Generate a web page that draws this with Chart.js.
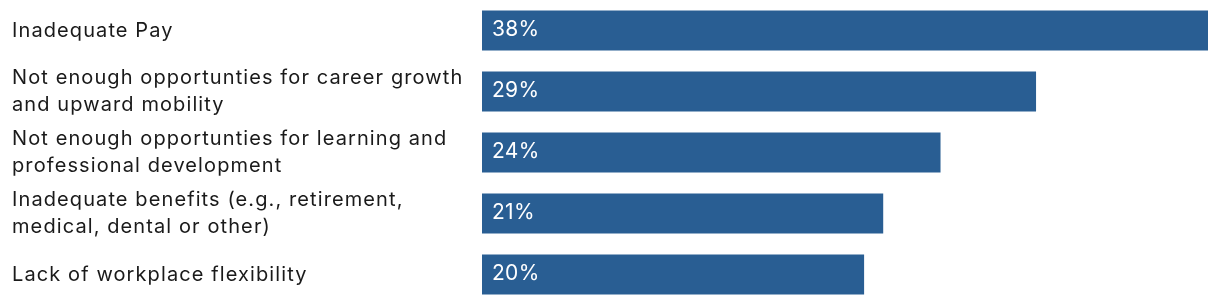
<!DOCTYPE html>
<html lang="en">
<head>
    <meta charset="UTF-8" />
    <title>Reasons for leaving</title>
    <script src="https://cdn.jsdelivr.net/npm/chart.js"></script>
    <style>
        html, body { margin: 0; padding: 0; background: #fff; }
        .wrap { width: 1220px; height: 306px; }
    </style>
</head>
<body>
    <div class="wrap"><canvas id="reasonsChart" width="1220" height="306"></canvas></div>

<script>
    const categories = [
        ['Inadequate Pay'],
        ['Not enough opportunties for career growth', 'and upward mobility'],
        ['Not enough opportunties for learning and', 'professional development'],
        ['Inadequate benefits (e.g., retirement,', 'medical, dental or other)'],
        ['Lack of workplace flexibility']
    ];
    const values = [38, 29, 24, 21, 20];
    const valueLabels = ['38%', '29%', '24%', '21%', '20%'];

    const FONT = 'Inter';
    const BAR_COLOR = '#295E93';

    // wider tracking so Inter reads closer to the original face
    const tracking = {
        id: 'tracking',
        beforeDraw(chart) {
            chart.ctx.letterSpacing = '1.1px';
        }
    };

    // writes the percentage inside each bar, left side
    const insideLabels = {
        id: 'insideLabels',
        afterDatasetsDraw(chart) {
            const { ctx } = chart;
            const meta = chart.getDatasetMeta(0);
            ctx.save();
            ctx.letterSpacing = '0.3px';
            ctx.fillStyle = '#fff';
            ctx.font = '21px ' + FONT;
            ctx.textAlign = 'left';
            ctx.textBaseline = 'middle';
            meta.data.forEach((bar, i) => {
                ctx.fillText(valueLabels[i], bar.base + 10, bar.y - 1);
            });
            ctx.restore();
        }
    };

    new Chart(document.getElementById('reasonsChart'), {
        type: 'bar',
        data: {
            labels: categories,
            datasets: [{
                data: values,
                backgroundColor: BAR_COLOR,
                categoryPercentage: 1,
                barPercentage: 0.656
            }]
        },
        options: {
            indexAxis: 'y',
            responsive: false,
            animation: false,
            layout: { padding: { left: 12, right: 12, top: 0, bottom: 1 } },
            plugins: {
                legend: { display: false },
                tooltip: { enabled: false }
            },
            scales: {
                x: {
                    display: false,
                    min: 0,
                    max: 38
                },
                y: {
                    grid: { display: false },
                    border: { display: false },
                    ticks: {
                        crossAlign: 'far',
                        color: '#1a1a1a',
                        padding: 0,
                        font: { family: FONT, size: 20, lineHeight: 1.35 }
                    },
                    afterFit(scale) {
                        scale.width = 470;
                        scale.paddingTop = 0;
                        scale.paddingBottom = 0;
                    }
                }
            }
        },
        plugins: [tracking, insideLabels]
    });
</script>
</body>
</html>
